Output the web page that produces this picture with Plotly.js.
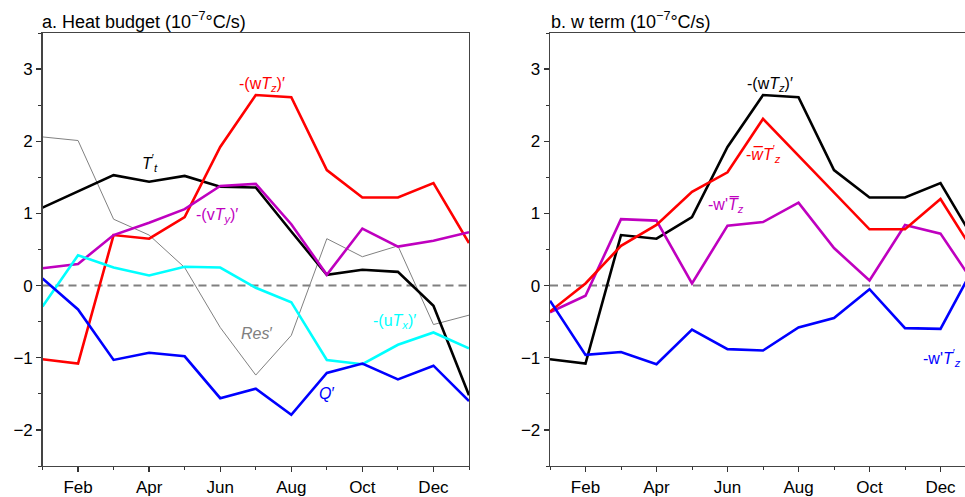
<!DOCTYPE html>
<html><head><meta charset="utf-8">
<script src="https://cdn.plot.ly/plotly-3.0.1.min.js"></script>
<style>body{margin:0;background:#fff}#plot{width:965px;height:497px}</style>
</head><body><div id="plot"></div>
<script>
// ---- data ----
const months = [1,2,3,4,5,6,7,8,9,10,11,12,13];
const monthTickVals = [2,4,6,8,10,12];
const monthTickText = ['Feb','Apr','Jun','Aug','Oct','Dec'];
const minorMonthVals = [1,3,5,7,9,11,13];
const yTickVals = [-2,-1,0,1,2,3];

// panel a: heat budget
const wTz = [-1.02,-1.08,0.70,0.65,0.95,1.92,2.64,2.61,1.60,1.22,1.22,1.42,0.59];
const Tt  = [1.08,1.30,1.53,1.44,1.52,1.37,1.36,0.75,0.15,0.22,0.19,-0.28,-1.52];
const vTy = [0.24,0.30,0.70,0.87,1.06,1.38,1.41,0.85,0.15,0.79,0.54,0.62,0.74];
const uTx = [-0.29,0.42,0.25,0.14,0.26,0.25,-0.03,-0.23,-1.03,-1.09,-0.82,-0.65,-0.87];
const Qp  = [0.10,-0.33,-1.03,-0.93,-0.98,-1.56,-1.43,-1.79,-1.21,-1.08,-1.30,-1.11,-1.60];
const Res = [2.06,2.01,0.92,0.70,0.25,-0.58,-1.24,-0.69,0.65,0.40,0.55,-0.54,-0.41];

// panel b: w term
const wbarTzp  = [-0.36,0.03,0.55,0.84,1.30,1.57,2.31,1.80,1.29,0.78,0.78,1.20,0.42];
const wpTzbar  = [-0.37,-0.14,0.92,0.90,0.03,0.83,0.88,1.15,0.52,0.07,0.84,0.72,-0.01];
const wpTzp    = [-0.21,-0.96,-0.92,-1.09,-0.61,-0.88,-0.90,-0.58,-0.45,-0.05,-0.59,-0.60,0.31];

// ---- styles ----
const FONT = 'Liberation Sans, Arial, sans-serif';
const C = {red:'#ff0000', black:'#000000', mag:'#bf00bf', cyan:'#00ffff', blue:'#0000ff', gray:'#808080'};
const LW = 2.6;

function tr(y, color, width, xa, ya) {
  return {x: months, y: y, mode:'lines', line:{color:color, width:width}, xaxis:xa, yaxis:ya, hoverinfo:'skip', showlegend:false};
}

const data = [
  tr(Res, C.gray, 1, 'x', 'y'),
  tr(Tt, C.black, LW, 'x', 'y'),
  tr(wTz, C.red, LW, 'x', 'y'),
  tr(vTy, C.mag, LW, 'x', 'y'),
  tr(uTx, C.cyan, LW, 'x', 'y'),
  tr(Qp, C.blue, LW, 'x', 'y'),
  tr(wTz, C.black, LW, 'x2', 'y2'),
  tr(wpTzbar, C.mag, LW, 'x2', 'y2'),
  tr(wbarTzp, C.red, LW, 'x2', 'y2'),
  tr(wpTzp, C.blue, LW, 'x2', 'y2')
];

const W = 965, H = 497;
const yDom = [(H-466)/H, (H-33)/H];

function xAxis(domain, range, anchor) {
  return {
    domain: domain, range: range, anchor: anchor,
    tickmode:'array', tickvals: monthTickVals, ticktext: monthTickText,
    ticks:'outside', ticklen:5, tickwidth:1.3, tickcolor:'#333',
    minor:{tickmode:'array', tickvals: minorMonthVals, ticks:'outside', ticklen:3, tickwidth:1, tickcolor:'#333', showgrid:false},
    showline:true, linecolor:'#444', linewidth:1.3, mirror:true,
    showgrid:false, zeroline:false, fixedrange:true,
    tickfont:{family:FONT, size:17, color:'#000'}
  };
}
function yAxis(anchor, mirror) {
  return {
    domain: yDom, range:[-2.5,3.5], anchor: anchor,
    tickmode:'array', tickvals: yTickVals,
    ticks:'outside', ticklen:5, tickwidth:1.3, tickcolor:'#333',
    minor:{tickmode:'linear', tick0:0.5, dtick:1, ticks:'outside', ticklen:3, tickwidth:1, tickcolor:'#333', showgrid:false},
    showline:true, linecolor:'#444', linewidth:1.3, mirror:mirror,
    showgrid:false, zeroline:false, fixedrange:true,
    tickfont:{family:FONT, size:17, color:'#000'}
  };
}

function lab(text, x, y, color, xref, yref) {
  return {text:text, x:x, y:y, xref:xref, yref:yref, showarrow:false,
          font:{family:FONT, size:16, color:color}, xanchor:'center', yanchor:'middle'};
}

const annotations = [
  {text:'a. Heat budget (10<sup>−7</sup>°C/s)', xref:'paper', yref:'paper', x:40/W, y:1-20/H,
   xanchor:'left', yanchor:'middle', showarrow:false, font:{family:FONT, size:18, color:'#000'}},
  {text:'b. w term (10<sup>−7</sup>°C/s)', xref:'paper', yref:'paper', x:549/W, y:1-20/H,
   xanchor:'left', yanchor:'middle', showarrow:false, font:{family:FONT, size:18, color:'#000'}},
  lab('-(w<i>T</i><sub><i>z</i></sub>)′', 7.18, 2.79, C.red, 'x', 'y'),
  lab('<i>T</i><sup>′</sup><sub><i>t</i></sub>', 4.02, 1.70, C.black, 'x', 'y'),
  lab('-(v<i>T</i><sub><i>y</i></sub>)′', 5.91, 0.97, C.mag, 'x', 'y'),
  lab('<i>Res</i>′', 7.01, -0.67, C.gray, 'x', 'y'),
  lab('-(u<i>T</i><sub><i>x</i></sub>)′', 10.89, -0.50, C.cyan, 'x', 'y'),
  lab('<i>Q</i>′', 8.98, -1.50, C.blue, 'x', 'y'),
  lab('-(w<i>T</i><sub><i>z</i></sub>)′', 7.20, 2.79, C.black, 'x2', 'y2'),
  lab('-<i>w\u0305T</i><sup>′</sup><sub><i>z</i></sub>', 7.00, 1.83, C.red, 'x2', 'y2'),
  lab("-w'<i>T\u0305</i><sub><i>z</i></sub>", 5.96, 1.11, C.mag, 'x2', 'y2'),
  lab("-w'<i>T</i><sup>′</sup><sub><i>z</i></sub>", 12.04, -1.00, C.blue, 'x2', 'y2')
];

const zeroLine = (xd, ya) => ({type:'line', xref:xd, x0:0, x1:1, yref:ya, y0:0, y1:0,
  line:{color:'#808080', width:2, dash:'8px,5px'}, layer:'below'});

const layout = {
  width: W, height: H,
  margin:{l:0, r:0, t:0, b:0},
  paper_bgcolor:'#fff', plot_bgcolor:'#fff',
  xaxis: xAxis([42.5/W, 469/W], [1,13], 'y'),
  yaxis: yAxis('x', true),
  xaxis2: xAxis([550/W, 1], [1, 1 + (965-550)/35.5], 'y2'),
  yaxis2: yAxis('x2', false),
  shapes: [zeroLine('x domain','y'), zeroLine('x2 domain','y2')],
  annotations: annotations,
  showlegend:false
};

Plotly.newPlot('plot', data, layout, {staticPlot:true, displayModeBar:false});
</script>
</body></html>
